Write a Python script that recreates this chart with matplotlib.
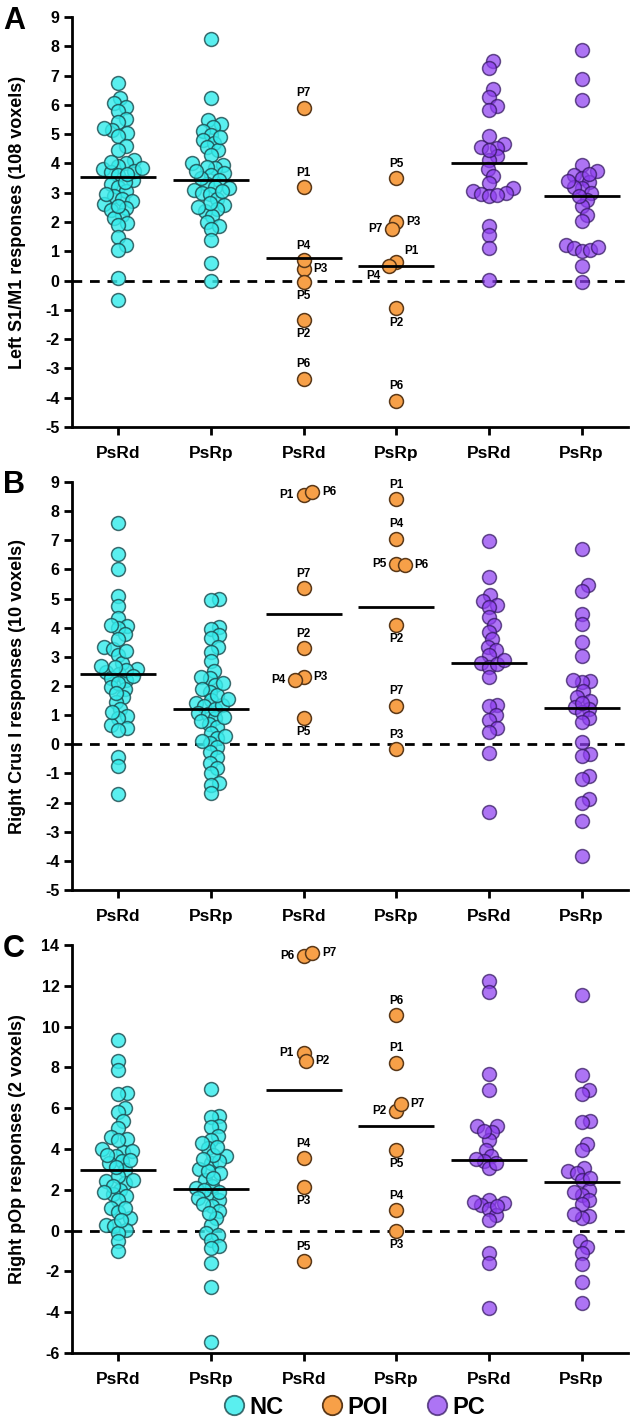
import numpy as np
import matplotlib
matplotlib.use('Agg')
import matplotlib.pyplot as plt
from matplotlib.lines import Line2D

plt.rcParams['font.family'] = ['Liberation Sans', 'DejaVu Sans']
plt.rcParams['font.weight'] = 'bold'

# ---------------- data ----------------
categories = ['PsRd', 'PsRp', 'PsRd', 'PsRp', 'PsRd', 'PsRp']
group_names = ['NC', 'POI', 'PC']
poi_names = ['P1', 'P2', 'P3', 'P4', 'P5', 'P6', 'P7']

# Panel A: Left S1/M1
a_nc_rd = [6.76, 6.23, 6.05, 5.94, 5.8, 5.5, 5.4, 5.15, 5.2, 5.03, 4.95, 4.6, 4.47, 4.1, 4.0, 3.9,
           3.8, 3.7, 3.6, 3.44, 3.3, 3.2, 3.05, 2.9, 2.8, 2.7, 2.6, 2.48, 2.4, 2.23, 2.14, 1.97, 1.9,
           1.5, 1.2, 1.06, 0.09, -0.65, 3.75, 3.85, 4.05, 3.35, 2.95, 2.55, 3.65]
a_nc_rp = [8.24, 6.23, 5.47, 5.35, 5.25, 5.1, 4.98, 4.8, 4.7, 4.55, 4.45, 4.3, 4.0, 3.95, 3.84, 3.88,
           3.67, 3.6, 3.44, 3.3, 3.2, 3.1, 2.99, 2.95, 2.8, 2.59, 2.45, 2.36, 2.2, 1.99, 1.88, 1.75,
           1.4, 0.6, 0.0, 3.5, 3.15, 2.65, 4.9, 3.05, 2.5, 3.75]
a_poi_rd = [3.2, -1.35, 0.4, 0.7, -0.05, -3.35, 5.9]
a_poi_rp = [0.65, -0.95, 2.0, 0.5, 3.5, -4.1, 1.75]
a_pc_rd = [7.5, 7.25, 6.53, 6.28, 5.97, 5.83, 4.94, 4.67, 4.55, 4.52, 4.24, 4.1, 3.8, 3.58, 3.33,
           3.15, 3.05, 2.95, 2.9, 1.85, 1.57, 1.1, 0.03, 4.45, 3.0, 2.92]
a_pc_rp = [7.88, 6.89, 6.17, 3.95, 3.73, 3.6, 3.5, 3.35, 3.16, 3.0, 2.76, 2.53, 2.25, 2.02, 1.23,
           1.1, 1.0, 1.05, 0.49, -0.06, 3.65, 3.2, 2.9, 1.15, 3.4]
a_means = [3.55, 3.45, 0.78, 0.49, 4.0, 2.9]
a_label_pos = [['u', 'd', 'r', 'u', 'd', 'u', 'u'],
               ['ur', 'd', 'r', 'dl', 'u', 'u', 'l']]

# Panel B: Right Crus I
b_nc_rd = [7.58, 6.53, 6.03, 5.09, 4.74, 4.32, 4.06, 4.0, 3.78, 3.35, 3.27, 3.06, 2.8, 2.6, 2.49,
           2.4, 2.26, 2.2, 1.98, 1.9, 1.63, 1.46, 1.2, 0.97, 0.9, 0.66, 0.55, 0.5, -0.45, -0.75,
           -1.72, 2.55, 2.65, 2.35, 2.1, 3.2, 1.75, 1.1, 2.7, 3.6, 4.1]
b_nc_rp = [5.0, 4.95, 4.03, 3.95, 3.75, 3.63, 3.35, 3.18, 2.87, 2.5, 2.26, 2.3, 2.03, 1.8, 1.52,
           1.4, 1.3, 1.06, 1.05, 0.89, 0.7, 0.6, 0.38, 0.2, 0.05, -0.1, -0.25, -0.45, -0.65, -0.8,
           -1.0, -1.34, -1.4, -1.68, 1.2, 1.35, 0.95, 1.7, 0.3, 0.1, 1.9, 2.1, 0.8, 1.55]
b_poi_rd = [8.55, 3.3, 2.3, 2.2, 0.9, 8.64, 5.35]
b_poi_rp = [8.4, 4.09, -0.16, 7.06, 6.2, 6.15, 1.33]
b_pc_rd = [6.98, 5.75, 5.12, 4.93, 4.78, 4.72, 4.38, 4.09, 3.86, 3.6, 3.35, 3.23, 3.06, 2.8, 2.66,
           2.32, 1.35, 1.3, 1.0, 0.85, 0.55, 0.43, -0.31, -2.31, 2.75, 2.9]
b_pc_rp = [6.69, 5.46, 5.27, 4.46, 4.13, 3.5, 3.03, 2.17, 2.15, 1.84, 1.63, 1.5, 1.27, 1.2, 1.1,
           0.89, 0.78, 0.09, -0.33, -0.4, -1.09, -1.2, -1.89, -2.0, -2.62, -3.85, 2.2, 1.4]
b_means = [2.4, 1.2, 4.47, 4.72, 2.8, 1.25]
b_label_pos = [['l', 'u', 'r', 'l', 'd', 'r', 'u'],
               ['u', 'd', 'u', 'u', 'l', 'r', 'u']]

# Panel C: Right pOp
c_nc_rd = [9.35, 8.33, 7.88, 6.73, 6.7, 6.03, 5.79, 5.35, 5.02, 4.61, 4.5, 4.0, 3.84, 3.67, 3.39,
           3.3, 2.98, 2.44, 2.33, 2.0, 1.8, 1.71, 1.51, 1.13, 0.89, 0.6, 0.29, 0.25, 0.04, -0.1,
           -0.53, -1.02, 3.9, 3.45, 4.45, 2.7, 2.2, 1.9, 1.1, 0.5, 3.7, 2.5, 3.1]
c_nc_rp = [6.93, 5.6, 5.55, 5.15, 5.1, 4.65, 4.42, 4.04, 3.64, 3.31, 3.4, 3.0, 2.82, 2.46, 2.08,
           1.79, 1.48, 1.23, 0.98, 0.62, 0.29, -0.12, -0.2, -0.45, -0.74, -0.86, -1.59, -2.76,
           -5.46, 4.3, 3.7, 2.9, 2.2, 2.0, 1.6, 1.3, 0.85, 2.6, 3.5, 4.1, 1.9]
c_poi_rd = [8.69, 8.29, 2.16, 3.55, -1.51, 13.45, 13.6]
c_poi_rp = [8.24, 5.84, 0.0, 0.99, 3.96, 10.57, 6.21]
c_pc_rd = [12.24, 11.71, 7.68, 6.9, 5.13, 5.15, 4.81, 4.45, 3.96, 3.64, 3.39, 3.06, 1.51, 1.35,
           1.25, 1.05, 0.78, 0.53, -1.1, -1.59, -3.81, 4.9, 3.5, 1.4, 1.2, 3.3]
c_pc_rp = [11.55, 7.63, 6.9, 6.7, 5.35, 5.3, 4.25, 3.93, 3.06, 2.9, 2.82, 2.5, 2.0, 1.75, 1.51,
           1.3, 0.73, 0.6, -0.53, -0.78, -1.1, -1.65, -2.53, -3.55, 2.6, 1.9, 0.8]
c_means = [2.95, 2.05, 6.9, 5.12, 3.45, 2.4]
c_label_pos = [['l', 'r', 'd', 'u', 'u', 'l', 'r'],
               ['u', 'l', 'd', 'u', 'd', 'u', 'r']]

ylabels = ['Left S1/M1 responses (108 voxels)',
           'Right Crus I responses (10 voxels)',
           'Right pOp responses (2 voxels)']
panel_letters = ['A', 'B', 'C']

# ---------------- style ----------------
face = {'NC': '#36ecec', 'POI': '#f7a048', 'PC': '#8e3ef0'}
edge = {'NC': '#1d4d50', 'POI': '#5a3818', 'PC': '#32165e'}
alpha = {'NC': 0.82, 'POI': 1.0, 'PC': 0.72}
MS = 100           # marker area (pt^2)
DIAM_PX = 14.0

panels = [
    dict(groups=[a_nc_rd, a_nc_rp, a_poi_rd, a_poi_rp, a_pc_rd, a_pc_rp], means=a_means,
         labpos=a_label_pos, ylim=(-5, 9), yticks=np.arange(-5, 10, 1)),
    dict(groups=[b_nc_rd, b_nc_rp, b_poi_rd, b_poi_rp, b_pc_rd, b_pc_rp], means=b_means,
         labpos=b_label_pos, ylim=(-5, 9), yticks=np.arange(-5, 10, 1)),
    dict(groups=[c_nc_rd, c_nc_rp, c_poi_rd, c_poi_rp, c_pc_rd, c_pc_rp], means=c_means,
         labpos=c_label_pos, ylim=(-6, 14), yticks=np.arange(-6, 15, 2)),
]

W, H, DPI = 633, 1420, 100
fig = plt.figure(figsize=(W / DPI, H / DPI), dpi=DPI)

ax_px = [(72, 628, 17, 427), (72, 628, 482, 890), (72, 628, 945, 1353)]
letter_top = [6, 470, 934]


def swarm_offsets(vals, xscale, yscale, mindist, sort=True, prefer=None):
    vals = np.asarray(vals, dtype=float)
    order = np.argsort(vals) if sort else np.arange(len(vals))
    placed = []
    offs = np.zeros(len(vals))
    for i in order:
        sign = 1.0
        if prefer is not None and prefer[i] in ('l', 'dl'):
            sign = -1.0
        cands = [0.0]
        for k in range(1, 300):
            cands += [sign * k * 0.7, -sign * k * 0.7]
        y = vals[i] * yscale
        for c in cands:
            ok = True
            for px, py in placed:
                if (c - px) ** 2 + (y - py) ** 2 < mindist ** 2:
                    ok = False
                    break
            if ok:
                break
        placed.append((c, y))
        offs[i] = c / xscale
    return offs


lab_off = {'u': ((0, 6), 'center', 'bottom'),
           'd': ((0, -6), 'center', 'top'),
           'l': ((-7, 0), 'right', 'center'),
           'r': ((7, 0), 'left', 'center'),
           'ur': ((6, 3), 'left', 'bottom'),
           'dl': ((-6, -3), 'right', 'top')}

for p, (cfg, (l, r, t, b)) in enumerate(zip(panels, ax_px)):
    ax = fig.add_axes([l / W, 1 - b / H, (r - l) / W, (b - t) / H])
    ax.set_xlim(-0.5, 5.5)
    ax.set_ylim(*cfg['ylim'])
    xscale = (r - l) / 6.0
    yscale = (b - t) / (cfg['ylim'][1] - cfg['ylim'][0])
    ax.axhline(0, color='black', lw=2.0, ls=(0, (3.5, 2.8)), zorder=1)
    for i, vals in enumerate(cfg['groups']):
        g = group_names[i // 2]
        if g == 'POI':
            lp = cfg['labpos'][i - 2]
            offs = swarm_offsets(vals, xscale, yscale, 0.6 * DIAM_PX, sort=False, prefer=lp)
        else:
            offs = swarm_offsets(vals, xscale, yscale, 0.58 * DIAM_PX)
        xs = i + offs
        ax.scatter(xs, vals, s=MS, facecolor=face[g], edgecolor=edge[g], linewidths=1.1,
                   alpha=alpha[g], zorder=2)
        ax.hlines(cfg['means'][i], i - 0.41, i + 0.41, color='black', lw=2.0, zorder=3)
        if g == 'POI':
            for k, (xv, yv) in enumerate(zip(xs, vals)):
                (dx, dy), ha, va = lab_off[lp[k]]
                ax.annotate(poi_names[k], (xv, yv), xytext=(dx, dy), textcoords='offset points',
                            ha=ha, va=va, fontsize=8.5, fontweight='bold', zorder=4)
    ax.set_xticks(range(6))
    ax.set_xticklabels(categories, fontsize=12.5, fontweight='bold')
    ax.set_yticks(cfg['yticks'])
    ax.set_yticklabels([str(v) for v in cfg['yticks']], fontsize=11.5, fontweight='bold')
    for s in ['top', 'right']:
        ax.spines[s].set_visible(False)
    for s in ['left', 'bottom']:
        ax.spines[s].set_linewidth(2.0)
    ax.tick_params(direction='out', length=6, width=2.0, pad=3)
    ax.tick_params(axis='x', pad=8)
    ax.set_ylabel(ylabels[p], fontsize=13, fontweight='bold')
    ax.yaxis.set_label_coords(-0.082, 0.5)
    fig.text(3 / W, 1 - letter_top[p] / H, panel_letters[p], fontsize=22, fontweight='bold',
             ha='left', va='top')

handles = [Line2D([], [], ls='none', marker='o', markersize=14, markerfacecolor=face[g],
                  markeredgecolor=edge[g], markeredgewidth=1.3, alpha=alpha[g]) for g in group_names]
fig.legend(handles, group_names, loc='center', bbox_to_anchor=(0.556, 1 - 1407 / H), ncol=3,
           frameon=False, handletextpad=0.0, columnspacing=1.4, handlelength=1.3,
           prop={'size': 17, 'weight': 'bold'})

fig.savefig('out.png', dpi=DPI)
